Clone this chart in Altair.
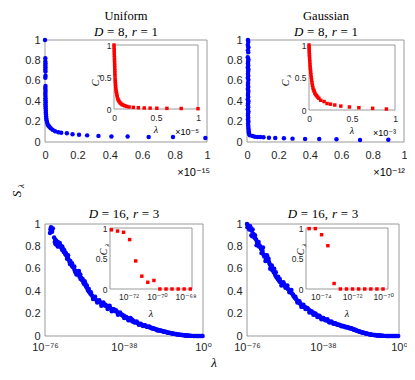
import altair as alt
import pandas as pd

# ---------------- data ----------------
# Uniform, D=8, r=1 : S_lambda vs lambda (units of 1e-15)
U8_LAM = [0.0, 0.002, 0.002, 0.003, 0.002, 0.003, 0.002, 0.003, 0.003, 0.002,
          0.003, 0.002, 0.003, 0.003, 0.002, 0.003, 0.003, 0.003, 0.004, 0.003,
          0.004, 0.004, 0.005, 0.005, 0.006, 0.007, 0.008, 0.010, 0.013, 0.017,
          0.022, 0.027, 0.035, 0.047, 0.062, 0.082, 0.10, 0.135, 0.17, 0.21,
          0.26, 0.33, 0.41, 0.51, 0.64, 0.79, 0.99]
U8_S = [1.0, 0.82, 0.79, 0.77, 0.75, 0.73, 0.71, 0.69, 0.65, 0.63,
        0.55, 0.53, 0.51, 0.49, 0.47, 0.45, 0.43, 0.41, 0.39, 0.37,
        0.35, 0.33, 0.31, 0.29, 0.27, 0.25, 0.23, 0.21, 0.19, 0.17,
        0.16, 0.15, 0.135, 0.12, 0.105, 0.095, 0.09, 0.085, 0.075, 0.07,
        0.065, 0.06, 0.055, 0.055, 0.05, 0.05, 0.04]
# inset C_lambda vs lambda (units of 1e-5)
U8_IN_LAM = [0, 0.001, 0.002, 0.003, 0.004, 0.005, 0.006, 0.007, 0.008, 0.009,
             0.010, 0.011, 0.012, 0.014, 0.016, 0.018, 0.020, 0.023, 0.026, 0.030,
             0.034, 0.039, 0.045, 0.052, 0.060, 0.070, 0.082, 0.095, 0.11, 0.13,
             0.15, 0.18, 0.23, 0.29, 0.36, 0.43, 0.51, 0.63, 0.80, 1.0]
U8_IN_C = [1.0, 0.96, 0.92, 0.88, 0.84, 0.80, 0.76, 0.72, 0.68, 0.64,
           0.60, 0.56, 0.52, 0.47, 0.43, 0.39, 0.35, 0.31, 0.28, 0.25,
           0.22, 0.19, 0.16, 0.14, 0.12, 0.10, 0.085, 0.07, 0.06, 0.05,
           0.04, 0.032, 0.026, 0.02, 0.016, 0.014, 0.012, 0.01, 0.008, 0.005]

# Gaussian, D=8, r=1 : S_lambda vs lambda (units of 1e-12)
G8_LAM = [0.006, 0.008, 0.005, 0.009, 0.006, 0.008, 0.005, 0.009, 0.007, 0.006,
          0.008, 0.005, 0.009, 0.007, 0.006, 0.008, 0.005, 0.009, 0.007, 0.006,
          0.008, 0.005, 0.009, 0.007, 0.006, 0.008, 0.005, 0.009, 0.007, 0.006,
          0.008, 0.005, 0.009, 0.007, 0.006, 0.008, 0.006, 0.009, 0.007, 0.008,
          0.009, 0.010, 0.011, 0.012, 0.013,
          0.018, 0.035, 0.05, 0.067, 0.085, 0.105, 0.14, 0.18, 0.235, 0.29,
          0.37, 0.46, 0.57, 0.72, 0.90]
G8_S = [1.0, 0.98, 0.95, 0.93, 0.90, 0.88, 0.83, 0.81, 0.79, 0.77,
        0.75, 0.73, 0.71, 0.69, 0.67, 0.65, 0.63, 0.61, 0.58, 0.56,
        0.54, 0.52, 0.50, 0.48, 0.46, 0.44, 0.42, 0.40, 0.38, 0.36,
        0.34, 0.32, 0.30, 0.28, 0.26, 0.24, 0.22, 0.20, 0.18, 0.16,
        0.14, 0.12, 0.10, 0.09, 0.08,
        0.065, 0.058, 0.052, 0.05, 0.048, 0.046, 0.042, 0.04, 0.036, 0.033,
        0.03, 0.03, 0.028, 0.02, 0.022]
# inset (units of 1e-3)
G8_IN_LAM = [0, 0.001, 0.002, 0.003, 0.004, 0.005, 0.006, 0.008, 0.010, 0.012,
             0.014, 0.017, 0.020, 0.023, 0.027, 0.031, 0.035, 0.040, 0.046, 0.053,
             0.060, 0.068, 0.077, 0.087, 0.10, 0.115, 0.136, 0.175, 0.21, 0.25,
             0.30, 0.37, 0.47, 0.58, 0.74, 0.90]
G8_IN_C = [1.0, 0.97, 0.94, 0.91, 0.88, 0.85, 0.82, 0.78, 0.74, 0.70,
           0.66, 0.62, 0.58, 0.54, 0.50, 0.46, 0.42, 0.38, 0.34, 0.31,
           0.29, 0.26, 0.24, 0.22, 0.20, 0.18, 0.15, 0.13, 0.10, 0.09,
           0.077, 0.06, 0.046, 0.036, 0.026, 0.015]

# Uniform, D=16, r=3 : log10(lambda) and S_lambda
U16_EXP = [-73.6, -73.4, -73.1, -72.8, -72.6, -71.6, -71.3, -71.0, -70.6, -70.2,
           -69.8, -69.4, -69.0, -68.6, -68.2, -67.8, -67.4, -67.0, -66.6, -66.2,
           -65.8, -65.4, -65.0, -64.6, -64.2, -63.8, -63.4, -63.0, -62.6, -62.2,
           -61.8, -61.4, -61.0, -60.6, -60.2, -59.8, -59.4, -59.0, -58.6, -58.2,
           -57.8, -57.4, -57.0, -56.6, -56.2, -55.8, -55.4, -55.0, -54.6, -54.2,
           -53.8, -53.3, -52.8, -52.3, -51.8, -51.2, -50.6, -50.0, -49.4, -48.8,
           -48.2, -47.6, -47.0, -46.4, -45.8, -45.2, -44.6, -44.0, -43.4, -42.8,
           -42.2, -41.6, -41.0, -40.4, -39.8, -39.2, -38.6, -38.0, -37.4, -36.8,
           -36.2, -35.6, -35.0, -34.4, -33.8, -33.2, -32.6, -32.0, -31.4, -30.8,
           -30.2, -29.6, -29.0, -28.4, -27.8, -27.2, -26.6, -26.0, -25.4, -24.8,
           -24.2, -23.6, -23.0, -22.4, -21.8, -21.2, -20.6, -20.0, -19.4, -18.8,
           -18.2, -17.6, -17.0, -16.4, -15.8, -15.2, -14.6, -14.0, -13.4, -12.8,
           -12.2, -11.6, -11.0, -10.4, -9.8, -9.2, -8.6, -8.0, -7.4, -6.8,
           -6.2, -5.6, -5.0, -4.4, -3.8, -3.2, -2.6, -2.0, -1.4, -0.8, -0.2,
           -72.2, -70.9, -69.9, -68.9, -67.7, -66.9, -65.9, -64.9, -63.9, -62.9,
           -61.9, -60.9, -59.7, -58.9, -57.9, -56.9, -55.9, -54.9, -53.9, -52.9,
           -51.9, -50.9, -49.9, -48.9, -47.9, -46.9, -45.9, -44.9, -43.9, -42.9,
           -41.9, -40.9, -39.9, -38.9, -37.9, -36.9, -35.9, -34.9, -33.9, -32.9,
           -31.9, -30.9, -29.9, -28.9, -27.9, -26.9, -25.9, -24.9, -23.9, -22.9,
           -21.9, -20.9, -19.9, -18.9, -17.9, -16.9, -15.9, -14.9, -13.9, -12.9,
           -11.9, -10.9, -9.9, -8.9, -7.9, -6.9, -5.9]
U16_S = [0.92, 0.95, 0.97, 0.95, 0.93, 0.88, 0.84, 0.86, 0.85, 0.83,
         0.84, 0.82, 0.80, 0.81, 0.79, 0.77, 0.78, 0.75, 0.76, 0.73,
         0.72, 0.69, 0.70, 0.68, 0.66, 0.67, 0.64, 0.65, 0.62, 0.61,
         0.59, 0.57, 0.58, 0.56, 0.55, 0.56, 0.53, 0.55, 0.52, 0.50,
         0.49, 0.47, 0.46, 0.47, 0.44, 0.43, 0.41, 0.40, 0.39, 0.38,
         0.37, 0.36, 0.35, 0.34, 0.33, 0.32, 0.31, 0.31, 0.30, 0.29,
         0.29, 0.28, 0.27, 0.27, 0.26, 0.25, 0.25, 0.24, 0.24, 0.23,
         0.22, 0.22, 0.21, 0.20, 0.20, 0.19, 0.18, 0.18, 0.17, 0.16,
         0.16, 0.15, 0.14, 0.15, 0.14, 0.13, 0.125, 0.12, 0.115, 0.11,
         0.105, 0.10, 0.097, 0.093, 0.09, 0.086, 0.083, 0.08, 0.077, 0.073,
         0.07, 0.066, 0.062, 0.058, 0.055, 0.052, 0.049, 0.046, 0.043, 0.04,
         0.038, 0.035, 0.032, 0.03, 0.027, 0.025, 0.022, 0.02, 0.018, 0.016,
         0.014, 0.012, 0.01, 0.009, 0.008, 0.006, 0.005, 0.004, 0.003, 0.002,
         0.002, 0.001, 0.001, 0.0, 0.0, 0.0, 0.0, 0.0, 0.0, 0.0, 0.0,
         0.96, 0.82, 0.80, 0.83, 0.80, 0.77, 0.74, 0.72, 0.64, 0.62,
         0.62, 0.55, 0.58, 0.51, 0.51, 0.49, 0.45, 0.42, 0.39, 0.33,
         0.35, 0.30, 0.32, 0.27, 0.30, 0.28, 0.24, 0.27, 0.22, 0.24,
         0.23, 0.19, 0.21, 0.19, 0.16, 0.17, 0.14, 0.16, 0.13, 0.12,
         0.13, 0.10, 0.11, 0.09, 0.095, 0.08, 0.085, 0.07, 0.065, 0.06,
         0.05, 0.048, 0.044, 0.038, 0.036, 0.03, 0.028, 0.023, 0.019, 0.017,
         0.013, 0.011, 0.008, 0.006, 0.004, 0.003, 0.001]
U16_IN_EXP = [-73.2, -72.77, -72.35, -71.92, -71.5, -71.07, -70.65, -70.22,
              -69.8, -69.37, -68.95, -68.52, -68.1, -67.67]
U16_IN_C = [0.97, 0.95, 0.93, 0.81, 0.46, 0.21, 0.11, 0.14, 0, 0, 0, 0, 0, 0]

# Gaussian, D=16, r=3
G16_EXP = [-76.0, -75.6, -75.2, -74.8, -74.4, -74.0, -73.6, -73.2, -73.8, -73.4,
           -72.8, -72.3, -71.8, -71.4, -71.0, -70.6, -70.2, -69.8, -69.4, -69.0,
           -68.6, -68.2, -67.8, -67.4, -67.0, -66.6, -66.2, -65.8, -65.4, -65.0,
           -64.6, -64.2, -63.8, -63.4, -63.0, -62.6, -62.2, -61.8, -61.4, -61.0,
           -60.6, -60.2, -59.8, -59.4, -59.0, -58.5, -58.0, -57.5, -57.0, -56.5,
           -56.0, -55.5, -55.0, -54.5, -54.0, -53.5, -53.0, -52.5, -52.0, -51.5,
           -51.0, -50.5, -50.0, -49.5, -49.0, -48.5, -48.0, -47.5, -47.0, -46.5,
           -46.0, -45.4, -44.8, -44.2, -43.6, -43.0, -42.4, -41.8, -41.2, -40.6,
           -40.0, -39.4, -38.8, -38.2, -37.6, -37.0, -36.4, -35.8, -35.2,
           -34.6, -34.0, -33.4, -32.8, -32.2, -31.6, -31.0, -30.4, -29.8, -29.2,
           -28.6, -28.0, -27.4, -26.8, -26.2, -25.6, -25.0, -24.4, -23.8, -23.2,
           -22.6, -22.0, -21.4, -20.8, -20.2, -19.6, -19.0, -18.4, -17.8, -17.2,
           -16.6, -16.0, -15.4, -14.8, -14.2, -13.6, -13.0, -12.4, -11.8, -11.2,
           -10.6, -10.0, -9.4, -8.8, -8.2, -7.6, -7.0, -6.4, -5.8, -5.2,
           -4.6, -4.0, -3.4, -2.8, -2.2, -1.6, -1.0, -0.4,
           -75.8, -74.9, -72.0, -71.2, -70.0, -68.8, -68.0, -66.8, -66.0, -65.2,
           -64.4, -63.6, -62.4, -61.6, -60.4, -59.6, -58.8, -57.8, -56.8, -55.8,
           -54.8, -53.8, -52.8, -51.8, -50.8, -49.8, -48.8, -47.8, -46.8, -45.8,
           -44.8, -43.8, -42.8, -41.8, -40.8, -39.8, -38.8, -37.8, -36.8, -35.8,
           -34.8, -33.8, -32.8, -31.8, -30.8, -29.8, -28.8, -27.8, -26.8, -25.8,
           -24.8, -23.8, -22.8, -21.8, -20.8, -19.8, -18.8, -17.8, -16.8, -15.8,
           -14.8, -13.8, -12.8, -11.8, -10.8, -9.8, -8.8, -7.8]
G16_S = [1.0, 0.99, 0.98, 0.97, 0.98, 0.96, 0.94, 0.95, 0.90, 0.89,
         0.91, 0.88, 0.87, 0.86, 0.84, 0.83, 0.84, 0.81, 0.80, 0.78,
         0.77, 0.76, 0.73, 0.71, 0.72, 0.70, 0.69, 0.70, 0.67, 0.66,
         0.64, 0.63, 0.61, 0.59, 0.60, 0.57, 0.56, 0.54, 0.53, 0.52,
         0.51, 0.50, 0.49, 0.48, 0.48, 0.47, 0.46, 0.46, 0.45, 0.44,
         0.43, 0.42, 0.41, 0.41, 0.39, 0.38, 0.37, 0.35, 0.34, 0.33,
         0.32, 0.31, 0.30, 0.29, 0.28, 0.28, 0.27, 0.26, 0.26, 0.25,
         0.24, 0.24, 0.23, 0.22, 0.21, 0.21, 0.20, 0.19, 0.19, 0.18,
         0.17, 0.17, 0.16, 0.16, 0.15, 0.15, 0.14, 0.14, 0.13,
         0.128, 0.124, 0.12, 0.116, 0.112, 0.108, 0.104, 0.10, 0.097, 0.094,
         0.091, 0.088, 0.085, 0.082, 0.079, 0.076, 0.073, 0.07, 0.067, 0.062,
         0.058, 0.054, 0.05, 0.046, 0.042, 0.038, 0.035, 0.032, 0.029, 0.026,
         0.023, 0.021, 0.018, 0.016, 0.014, 0.012, 0.01, 0.009, 0.007, 0.006,
         0.005, 0.004, 0.003, 0.002, 0.002, 0.001, 0.001, 0.0, 0.0, 0.0,
         0.0, 0.0, 0.0, 0.0, 0.0, 0.0, 0.0, 0.0,
         0.97, 0.95, 0.90, 0.81, 0.80, 0.74, 0.79, 0.67, 0.72, 0.69,
         0.60, 0.63, 0.60, 0.57, 0.53, 0.51, 0.45, 0.48, 0.43, 0.45,
         0.39, 0.41, 0.36, 0.35, 0.30, 0.31, 0.26, 0.28, 0.24, 0.25,
         0.21, 0.22, 0.19, 0.20, 0.17, 0.18, 0.15, 0.16, 0.14, 0.15,
         0.12, 0.13, 0.11, 0.115, 0.10, 0.10, 0.088, 0.09, 0.078, 0.08,
         0.07, 0.07, 0.058, 0.055, 0.044, 0.04, 0.033, 0.03, 0.024, 0.02,
         0.015, 0.012, 0.009, 0.008, 0.005, 0.004, 0.002, 0.001]
G16_IN_EXP = [-74.75, -74.35, -73.95, -73.55, -73.15, -72.75, -72.36, -71.97,
              -71.58, -71.19, -70.8, -70.41, -70.02]
G16_IN_C = [0.99, 0.99, 0.89, 0.71, 0.09, 0, 0, 0, 0, 0, 0, 0, 0]

# tick values / labels
LIN_TICKS = [0, 0.2, 0.4, 0.6, 0.8, 1]
INSET_TICKS = [0, 0.5, 1]
MAIN_LOG_EXP = [-76, -38, 0]
U16_IN_TICK_EXP = [-72, -70, -68]
G16_IN_TICK_EXP = [-74, -72, -70]

# ---------------- layout ----------------
W, H, M = 399, 364, 8
SANS = "Liberation Sans, Helvetica, Arial, DejaVu Sans, sans-serif"
SERIF = "Liberation Serif, Times New Roman, DejaVu Serif, serif"
AXC = "#262626"
BOXC = "#808080"
BLUE = "#0000ff"
RED = "#ff0000"
SUP = str.maketrans("-0123456789", "⁻⁰¹²³⁴⁵⁶⁷⁸⁹")


def pow_label(e):
    return "10" + str(e).translate(SUP)


def log_expr(exps):
    expr = "''"
    for e in reversed(exps):
        expr = f"abs(log(datum.value)/LN10 - ({e})) < 0.01 ? '{pow_label(e)}' : {expr}"
    return expr


def xsc(dom, x0, x1, log=False):
    return alt.Scale(type="log" if log else "linear", domain=dom,
                     range=[x0 - M, x1 - M], nice=False, zero=False)


def ysc(dom, yb, yt):
    return alt.Scale(type="linear", domain=dom, range=[yb - M, yt - M],
                     nice=False, zero=False)


def xax(yb, values, fs, pad, expr=None):
    kw = dict(orient="bottom", offset=(yb - M) - H, values=values, ticks=False,
              domain=False, grid=False, labelFontSize=fs, labelFont=SANS,
              labelColor=AXC, labelPadding=pad, title=None, labelFlush=False,
              labelOverlap=False, zindex=1)
    if expr:
        kw["labelExpr"] = expr
    else:
        kw["format"] = "~g"
    return alt.Axis(**kw)


def yax(x0, values, fs, pad):
    return alt.Axis(orient="left", offset=-(x0 - M), values=values, ticks=False,
                    domain=False, grid=False, labelFontSize=fs, labelFont=SANS,
                    labelColor=AXC, labelPadding=pad, title=None, format="~g",
                    labelOverlap=False, zindex=1)


def box(xs, ys, xd, yd, white, axx=None, axy=None):
    mk = dict(stroke=BOXC, strokeWidth=0.8)
    if white:
        mk["fill"] = "#ffffff"
    else:
        mk["fillOpacity"] = 0
    return alt.Chart(pd.DataFrame({"a": [0]})).mark_rect(**mk).encode(
        x=alt.XDatum(xd[0], scale=xs, axis=axx, type="quantitative"),
        x2=alt.X2Datum(xd[1]),
        y=alt.YDatum(yd[0], scale=ys, axis=axy, type="quantitative"),
        y2=alt.Y2Datum(yd[1]),
    )


def pts(x, y, xs, ys, kind):
    df = pd.DataFrame({"x": x, "y": y})
    if kind == "main":
        mark = alt.Chart(df).mark_circle(size=20, color=BLUE, opacity=1)
    else:
        mark = alt.Chart(df).mark_square(size=12, color=RED, opacity=1)
    return mark.encode(x=alt.X("x:Q", scale=xs, axis=None),
                       y=alt.Y("y:Q", scale=ys, axis=None))


def txt(s, x, y, fs, font=SERIF, style="normal", align="center",
        baseline="middle", angle=0):
    return alt.Chart(pd.DataFrame({"t": [s]})).mark_text(
        fontSize=fs, font=font, fontStyle=style, align=align,
        baseline=baseline, angle=angle, color="#000000"
    ).encode(x=alt.value(x - M), y=alt.value(y - M), text="t:N")


def math_line(parts, cx, cy, fs):
    total = sum(w + g for _, _, w, g in parts) - parts[-1][3]
    x = cx - total * fs / 2
    out = []
    for t, it, w, g in parts:
        out.append(txt(t, x, cy, fs, SERIF, "italic" if it else "normal",
                       align="left"))
        x += (w + g) * fs
    return out


def dr_parts(d, r):
    return [("D", True, 0.722, 0.28), ("=", False, 0.564, 0.28),
            (f"{d},", False, 0.5 * len(str(d)) + 0.25, 0.3),
            ("r", True, 0.389, 0.28), ("=", False, 0.564, 0.28),
            (str(r), False, 0.5, 0)]


layers = []


def lin_panel(P, I, lam, s, ilam, ic):
    x0, x1, yt, yb = P
    ix0, ix1, iyt, iyb = I
    xs, ys = xsc([0, 1], x0, x1), ysc([0, 1], yb, yt)
    ixs, iys = xsc([0, 1], ix0, ix1), ysc([0, 1], iyb, iyt)
    layers.append(box(xs, ys, [0, 1], [0, 1], False,
                      xax(yb, LIN_TICKS, 11, 7), yax(x0, LIN_TICKS, 11, 5)))
    layers.append(pts(lam, s, xs, ys, "main"))
    layers.append(box(ixs, iys, [0, 1], [0, 1], True,
                      xax(iyb, INSET_TICKS, 8.5, 4), yax(ix0, INSET_TICKS, 8.5, 3)))
    layers.append(pts(ilam, ic, ixs, iys, "inset"))


def log_panel(P, I, idom, iticks, exps, s, iexps, ic):
    x0, x1, yt, yb = P
    ix0, ix1, iyt, iyb = I
    xs = xsc([1e-76, 1], x0, x1, log=True)
    ys = ysc([0, 1], yb, yt)
    ixs = xsc([10 ** idom[0], 10 ** idom[1]], ix0, ix1, log=True)
    iys = ysc([0, 1], iyb, iyt)
    main_vals = [10.0 ** e for e in MAIN_LOG_EXP]
    in_vals = [10.0 ** e for e in iticks]
    layers.append(box(xs, ys, [1e-76, 1], [0, 1], False,
                      xax(yb, main_vals, 11, 5, log_expr(MAIN_LOG_EXP)),
                      yax(x0, LIN_TICKS, 11, 5)))
    layers.append(pts([10.0 ** e for e in exps], s, xs, ys, "main"))
    layers.append(box(ixs, iys, [10 ** idom[0], 10 ** idom[1]], [0, 1], True,
                      xax(iyb, in_vals, 8.5, 3, log_expr(iticks)),
                      yax(ix0, INSET_TICKS, 8.5, 3)))
    layers.append(pts([10.0 ** e for e in iexps], ic, ixs, iys, "inset"))


TL = (45, 207, 40, 142)
TR = (247, 404, 40, 142)
BL = (45, 203, 224, 336)
BR = (247, 399, 224, 336)
TLI = (114, 198, 45, 109)
TRI = (309, 395, 45, 110)
BLI = (110, 192, 228, 289)
BRI = (306, 388, 228, 289)

lin_panel(TL, TLI, U8_LAM, U8_S, U8_IN_LAM, U8_IN_C)
lin_panel(TR, TRI, G8_LAM, G8_S, G8_IN_LAM, G8_IN_C)
log_panel(BL, BLI, (-73.3, -67.55), U16_IN_TICK_EXP, U16_EXP, U16_S, U16_IN_EXP, U16_IN_C)
log_panel(BR, BRI, (-74.95, -69.7), G16_IN_TICK_EXP, G16_EXP, G16_S, G16_IN_EXP, G16_IN_C)

# titles
layers.append(txt("Uniform", 126, 20, 12.5, baseline="alphabetic"))
layers.append(txt("Gaussian", 326, 20, 12.5, baseline="alphabetic"))
layers += math_line(dr_parts(8, 1), 126, 32, 13)
layers += math_line(dr_parts(8, 1), 326, 32, 13)
layers += math_line(dr_parts(16, 3), 124, 214, 13)
layers += math_line(dr_parts(16, 3), 323, 214, 13)

# exponent multipliers
layers.append(txt("×10" + "-15".translate(SUP), 210, 173, 11, SANS, align="right"))
layers.append(txt("×10" + "-12".translate(SUP), 405, 173, 11, SANS, align="right"))
layers.append(txt("×10" + "-5".translate(SUP), 199, 132, 9, SANS, align="right"))
layers.append(txt("×10" + "-3".translate(SUP), 396, 133, 9, SANS, align="right"))

# inset axis labels
for (cx, cy) in [(156, 130), (352, 131), (151, 314), (347, 314)]:
    layers.append(txt("λ", cx, cy, 10, SERIF, "italic"))
for (cx, cy) in [(96, 83), (286, 83), (104, 252), (301, 252)]:
    layers.append(txt("C", cx, cy, 10, SERIF, "italic", angle=270))
    layers.append(txt("λ", cx + 3, cy - 7, 7, SERIF, "italic", angle=270))

# global axis labels
layers.append(txt("λ", 214, 363, 13, SERIF, "italic"))
layers.append(txt("S", 17, 194, 13, SERIF, "italic", angle=270))
layers.append(txt("λ", 21, 186, 9, SERIF, "italic", angle=270))

chart = alt.layer(*layers).resolve_scale(
    x="independent", y="independent"
).properties(
    width=W, height=H, padding=0,
    autosize=alt.AutoSizeParams(type="none"), background="white"
).configure_view(strokeWidth=0)

chart.save("out.html", embed_options={"renderer": "svg", "actions": False})
